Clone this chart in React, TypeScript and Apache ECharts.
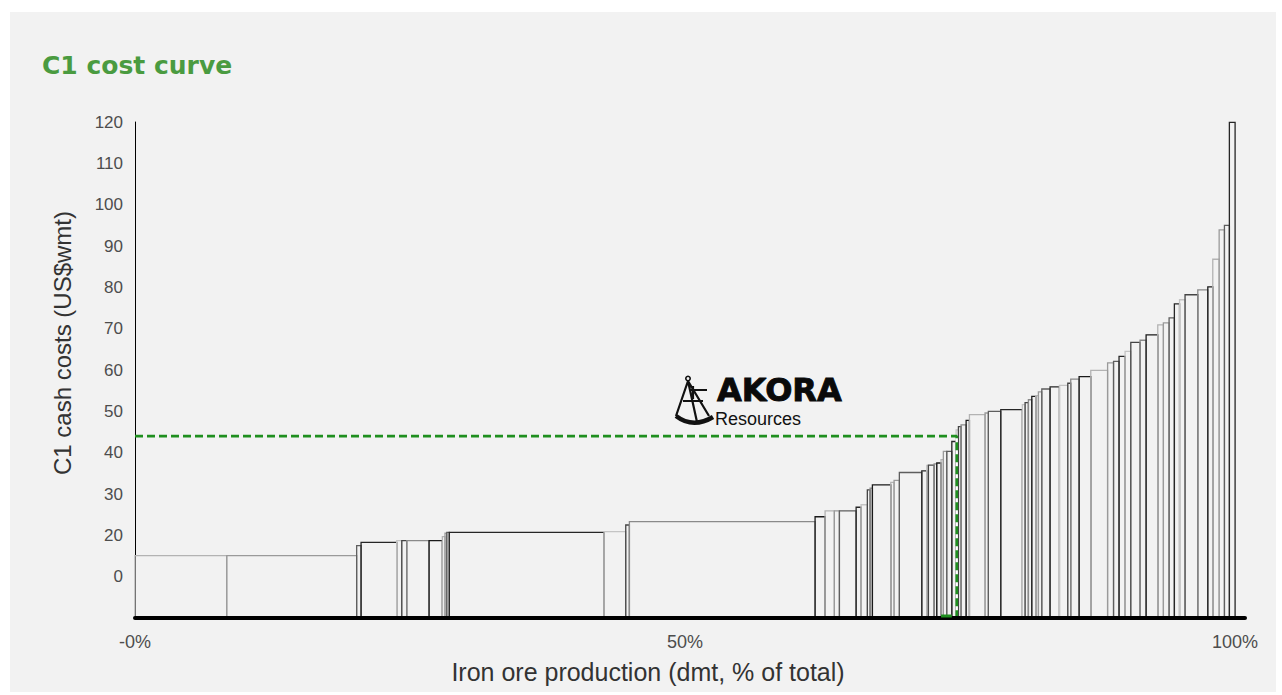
import React, { useEffect, useRef } from "react";
import * as echarts from "echarts";

// Share of seaborne iron ore production (%, dmt) for each operation, sorted by cost
const productionShare = [
  8.34, 11.81, 0.4, 3.24, 0.46, 0.45, 2.03, 1.21, 0.24, 0.16, 0.23, 14.07, 1.97, 0.33, 16.88,
  0.91, 0.84, 0.46, 1.52, 0.45, 0.57, 0.25, 0.21, 1.67, 0.3, 0.48, 2.04, 0.45, 0.15, 0.52,
  0.24, 0.39, 0.21, 0.31, 0.46, 0.39, 0.21, 0.24, 0.46, 0.3, 1.42, 0.3, 1.13, 1.96, 0.25,
  0.3, 0.31, 0.36, 0.24, 0.31, 0.75, 0.85, 0.76, 0.27, 0.76, 1.06, 1.53, 0.54, 0.5, 0.55,
  0.52, 0.84, 0.55, 1.06, 0.51, 0.52, 0.48, 0.47, 0.5, 1.16, 0.91, 0.45, 0.58, 0.48, 0.45, 0.52,
];

// C1 cash cost of each operation (US$/wmt)
const c1Cost = [
  15.1, 15.1, 17.5, 18.3, 18.7, 18.7, 18.7, 18.7, 19.7, 20.5, 20.7, 20.7, 20.9, 22.5, 23.3,
  24.5, 25.9, 25.9, 25.9, 26.8, 27.4, 31.0, 31.4, 32.2, 32.8, 33.3, 35.2, 35.6, 36.9, 37.0,
  37.3, 37.5, 38.3, 40.3, 40.3, 42.7, 45.5, 46.3, 46.7, 47.8, 49.2, 49.6, 50.0, 50.4, 51.6,
  52.1, 52.8, 53.6, 53.8, 54.7, 55.4, 55.9, 56.3, 56.8, 57.8, 58.4, 59.9, 61.7, 62.1, 63.3,
  64.5, 66.7, 67.2, 68.5, 70.9, 71.4, 72.6, 76.0, 77.0, 78.2, 79.4, 80.1, 86.8, 93.9, 95.0, 119.9,
];

// Akora project position on the curve
const akoraCost = 44;
const akoraCumulativeShare = 74.7;
const akoraBand = [73.27, 74.25];

// Tick labels as printed on the axes
const yTickLabels: Record<number, string> = {
  10: "0", 20: "20", 30: "30", 40: "40", 50: "50", 60: "60",
  70: "70", 80: "80", 90: "90", 100: "100", 110: "110", 120: "120",
};
const xTickLabels: Record<number, string> = { 0: "-0%", 50: "50%", 100: "100%" };

const edgeTones = ["#b3b3b3", "#9a9a9a", "#5e5e5e", "#262626", "#c4c4c4", "#444444", "#8a8a8a", "#1a1a1a"];

echarts.graphic.registerShape(
  "sextantFrame",
  echarts.graphic.extendPath("M13 4 L1 39 M13 4 L34 39 M13 4 L22 45 M15 13 L32 13 M18 9 L18 22 M8 24 L28 24", {})
);
echarts.graphic.registerShape("sextantArc", echarts.graphic.extendPath("M1 39 Q18 52 38 40", {}));

export default function App() {
  const ref = useRef<HTMLDivElement>(null);

  useEffect(() => {
    document.body.style.margin = "0";
    if (!ref.current) return;
    const chart = echarts.init(ref.current, undefined, { renderer: "svg" });

    let acc = 0;
    const barRows = productionShare.map((w, i) => {
      const start = acc;
      acc += w;
      return [start, acc, c1Cost[i]];
    });

    const green = "#1f8f1f";

    chart.setOption({
      animation: false,
      backgroundColor: "transparent",
      grid: { left: 135, right: 37, top: 122, bottom: 77 },
      xAxis: {
        type: "value",
        min: 0,
        max: 100.9,
        interval: 50,
        z: 10,
        axisLine: { show: true, lineStyle: { color: "#000", width: 4 } },
        axisTick: { show: false },
        splitLine: { show: false },
        axisLabel: {
          margin: 15,
          fontSize: 18,
          color: "#4d4d4d",
          fontFamily: "Liberation Sans",
          formatter: (v: number) => xTickLabels[v] ?? "",
        },
      },
      yAxis: {
        type: "value",
        min: 0,
        max: 120,
        interval: 10,
        axisLine: { show: true, lineStyle: { color: "#000", width: 1 } },
        axisTick: { show: false },
        splitLine: { show: false },
        axisLabel: {
          margin: 12,
          fontSize: 17,
          color: "#4d4d4d",
          fontFamily: "Liberation Sans",
          formatter: (v: number) => yTickLabels[v] ?? "",
        },
      },
      series: [
        {
          type: "custom",
          data: barRows,
          encode: { x: [0, 1], y: 2 },
          z: 2,
          renderItem: (params: any, api: any) => {
            const base0 = api.coord([api.value(0), 0]);
            const top0 = api.coord([api.value(0), api.value(2)]);
            const top1 = api.coord([api.value(1), api.value(2)]);
            const base1 = api.coord([api.value(1), 0]);
            return {
              type: "polyline",
              shape: { points: [base0, top0, top1, base1] },
              style: {
                fill: "none",
                stroke: edgeTones[params.dataIndex % edgeTones.length],
                lineWidth: 1.3,
              },
            };
          },
        },
        {
          type: "line",
          data: [
            [akoraCumulativeShare, 0],
            [akoraCumulativeShare, akoraCost],
          ],
          symbol: "none",
          z: 3,
          lineStyle: { color: "#ffffff", width: 2 },
        },
        {
          type: "line",
          data: [
            [0, akoraCost],
            [akoraCumulativeShare, akoraCost],
            [akoraCumulativeShare, 0],
          ],
          symbol: "none",
          z: 4,
          lineStyle: { color: green, width: 2.6, type: [8, 4] },
        },
        {
          type: "line",
          data: [
            [akoraBand[0], 0.5],
            [akoraBand[1], 0.5],
          ],
          symbol: "none",
          z: 11,
          lineStyle: { color: green, width: 3 },
        },
      ],
      graphic: [
        {
          type: "text",
          x: 42,
          y: 65,
          style: {
            text: "C1 cost curve",
            fill: "#4a9b40",
            font: 'bold 25px "DejaVu Sans"',
            align: "left",
            verticalAlign: "middle",
          },
        },
        {
          type: "text",
          x: 62,
          y: 343,
          rotation: Math.PI / 2,
          style: {
            text: "C1 cash costs (US$wmt)",
            fill: "#333",
            font: '24px "Liberation Sans"',
            align: "center",
            verticalAlign: "middle",
          },
        },
        {
          type: "text",
          x: 648,
          y: 672,
          style: {
            text: "Iron ore production (dmt, % of total)",
            fill: "#333",
            font: '25px "Liberation Sans"',
            align: "center",
            verticalAlign: "middle",
          },
        },
        {
          type: "group",
          children: [
            {
              type: "circle",
              shape: { cx: 688, cy: 378.5, r: 2.2 },
              style: { fill: "none", stroke: "#111", lineWidth: 1.6 },
            },
            {
              type: "sextantFrame",
              x: 675,
              y: 377,
              style: { fill: "none", stroke: "#111", lineWidth: 2.2 },
            },
            {
              type: "sextantArc",
              x: 675,
              y: 377,
              style: { fill: "none", stroke: "#111", lineWidth: 4.5 },
            },
            {
              type: "text",
              x: 717,
              y: 390,
              style: {
                text: "AKORA",
                fill: "#0a0a0a",
                font: 'bold 32px "DejaVu Sans"',
                align: "left",
                verticalAlign: "middle",
                stroke: "#0a0a0a",
                lineWidth: 0.9,
              },
            },
            {
              type: "text",
              x: 715,
              y: 419,
              style: {
                text: "Resources",
                fill: "#111",
                font: '18px "Liberation Sans"',
                align: "left",
                verticalAlign: "middle",
              },
            },
          ],
        },
      ],
    });

    return () => chart.dispose();
  }, []);

  return (
    <div style={{ position: "relative", width: 1282, height: 695, background: "#ffffff", overflow: "hidden" }}>
      <div
        style={{ position: "absolute", left: 10, top: 12, width: 1266, height: 680, background: "#f2f2f2" }}
      />
      <div ref={ref} style={{ position: "absolute", left: 0, top: 0, width: 1282, height: 695 }} />
    </div>
  );
}
